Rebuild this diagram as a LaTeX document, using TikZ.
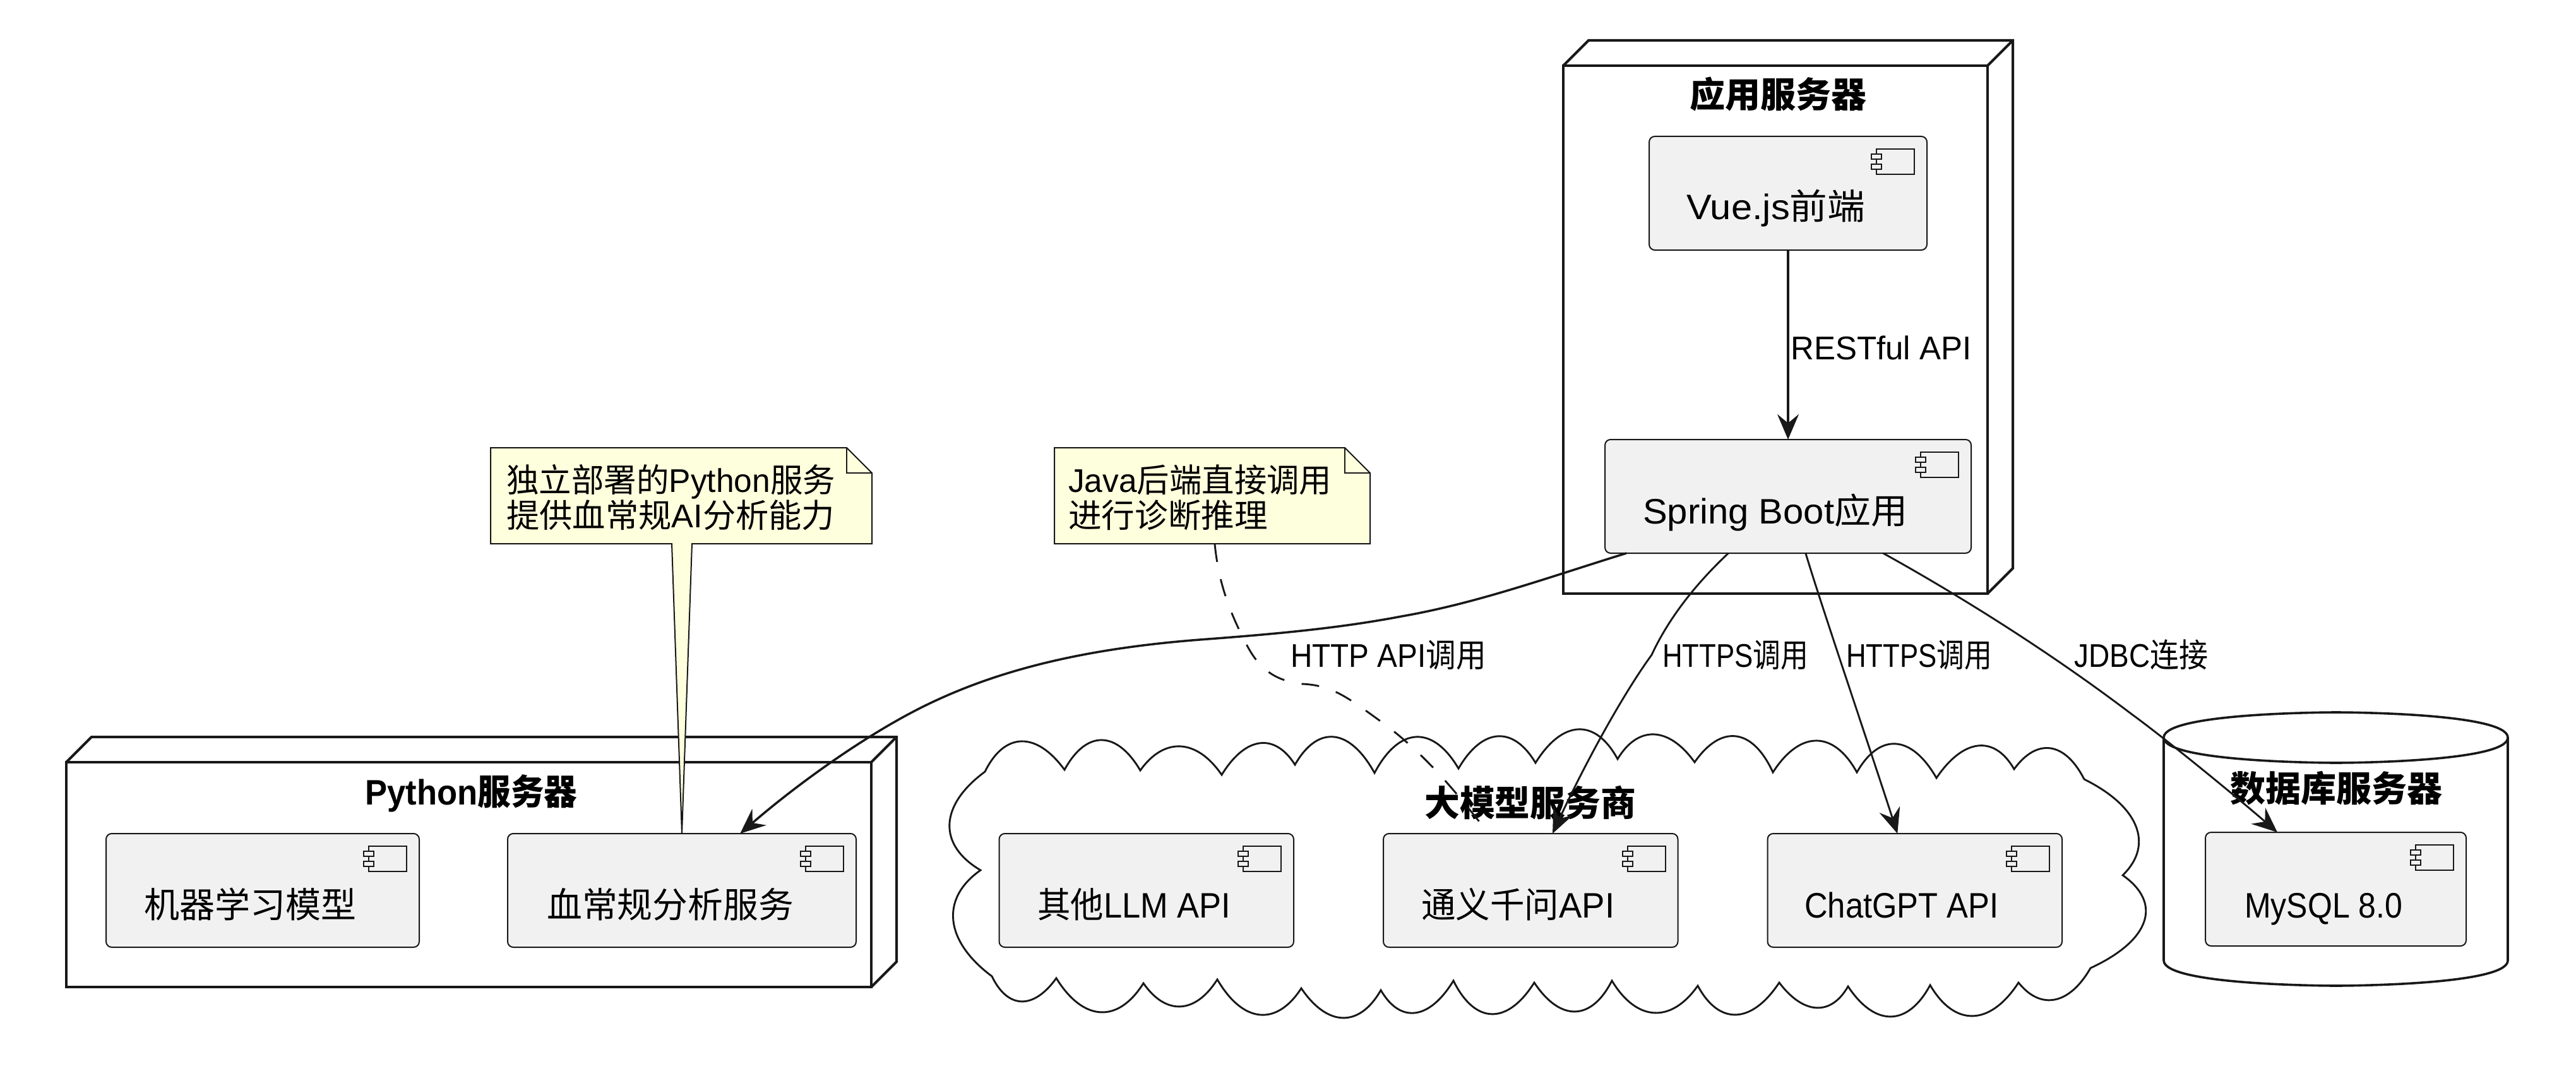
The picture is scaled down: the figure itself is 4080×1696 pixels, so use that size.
\documentclass[tikz,border=0pt]{standalone}
\usepackage{graphicx}
\usepackage{fontspec}
\setmainfont{Liberation Sans}
\newfontfamily\cjk{Noto Sans CJK SC}
\usetikzlibrary{positioning,calc,arrows.meta}

\definecolor{inkblack}{HTML}{181818}
\definecolor{compfill}{HTML}{F1F1F1}
\definecolor{notefill}{HTML}{FEFFDD}

\newcommand{\cn}[1]{{\cjk #1}}
% squeeze a text to the printed width
\newcommand{\fitw}[2]{\resizebox{#1pt}{\height}{#2}}

\tikzset{
    frame/.style={draw=inkblack,line width=4pt,inner sep=0pt,outer sep=0pt,anchor=north west},
    frameline/.style={draw=inkblack,line width=4pt},
    dbline/.style={draw=inkblack,line width=3.6pt},
    cloudline/.style={draw=inkblack,line width=2.9pt},
    comp/.style={draw=inkblack,fill=compfill,line width=2pt,rounded corners=9pt,inner sep=0pt,outer sep=0pt,minimum height=180pt,anchor=north west},
    compname/.style={inner sep=0pt,anchor=base west,text=black,font=\fontsize{56}{60}\selectfont},
    grouptitle/.style={inner sep=0pt,anchor=base west,text=black,font=\fontsize{56}{60}\selectfont\bfseries},
    linklabel/.style={inner sep=0pt,anchor=base west,text=black,font=\fontsize{52}{56}\selectfont},
    notepoly/.style={draw=inkblack,fill=notefill,line width=2pt,line join=miter},
    link/.style={draw=inkblack,line width=2.9pt,-{Stealth[length=40pt,width=34pt,inset=14pt]}},
    heavylink/.style={link,line width=3.5pt},
    notelink/.style={draw=inkblack,line width=2.9pt,dash pattern=on 28pt off 28pt},
    % one bump of the cloud, through the given peak
    bump/.style 2 args={to path={.. controls ($1.3333*(#1,#2)-0.3667*(\tikztotarget)+0.0333*(\tikztostart)$) and ($1.3333*(#1,#2)-0.3667*(\tikztostart)+0.0333*(\tikztotarget)$) .. (\tikztotarget)}},
    compicon/.pic={
        \draw[inkblack,fill=compfill,line width=2pt] (-80,20) rectangle (-20,60);
        \draw[inkblack,fill=compfill,line width=2pt] (-88,28) rectangle (-72,36);
        \draw[inkblack,fill=compfill,line width=2pt] (-88,44) rectangle (-72,52);
    }
}

\begin{document}
\begin{tikzpicture}[x=1pt,y=-1pt]
    \path[use as bounding box,fill=white] (0,0) rectangle (4080,1696);

    % application server
    \node[frame,minimum width=672pt,minimum height=836pt] (appnode) at (2476,104) {};
    \draw[frameline] (appnode.north west) -- ++(40,-40) -- ++(672,0) -- ++(0,836) -- (appnode.south east);
    \draw[frameline] (appnode.north east) -- ++(40,-40);
    \node[grouptitle] (apptitle) at (2676,171) {\fitw{280}{\cn{应用服务器}}};

    \node[comp,minimum width=440pt] (vue) at (2612,216) {};
    \pic at (vue.north east) {compicon};
    \node[compname] (vuename) at (2671,348) {\fitw{283}{Vue.js\cn{前端}}};

    \node[comp,minimum width=580pt] (spring) at (2542,696) {};
    \pic at (spring.north east) {compicon};
    \node[compname] (springname) at (2602,829) {\fitw{419}{Spring Boot\cn{应用}}};

    % python server
    \node[frame,minimum width=1275pt,minimum height=356pt] (pynode) at (105,1207) {};
    \draw[frameline] (pynode.north west) -- ++(40,-40) -- ++(1275,0) -- ++(0,356) -- (pynode.south east);
    \draw[frameline] (pynode.north east) -- ++(40,-40);
    \node[grouptitle] (pytitle) at (578,1274) {\fitw{336}{Python\cn{服务器}}};

    \node[comp,minimum width=496pt] (mlmodel) at (168,1320) {};
    \pic at (mlmodel.north east) {compicon};
    \node[compname] (mlname) at (228,1453) {\fitw{336}{\cn{机器学习模型}}};

    \node[comp,minimum width=552pt] (bloodsvc) at (804,1320) {};
    \pic at (bloodsvc.north east) {compicon};
    \node[compname] (bloodname) at (866,1453) {\fitw{391}{\cn{血常规分析服务}}};

    % llm cloud
    \draw[cloudline] (1560,1222)
        to[bump={1618}{1174}] (1686,1219) to[bump={1745}{1172}] (1806,1220)
        to[bump={1870}{1182}] (1935,1227) to[bump={1995}{1177}] (2051,1211)
        to[bump={2113}{1167}] (2177,1224) to[bump={2243}{1167}] (2310,1217)
        to[bump={2372}{1166}] (2432,1208) to[bump={2500}{1155}] (2562,1202)
        to[bump={2620}{1163}] (2684,1207) to[bump={2750}{1166}] (2808,1223)
        to[bump={2877}{1173}] (2941,1223) to[bump={3003}{1178}] (3067,1232)
        to[bump={3133}{1181}] (3190,1218) to[bump={3248}{1185}] (3301,1234)
        to[bump={3383}{1308}] (3362,1386) to[bump={3396}{1460}] (3311,1533)
        to[bump={3255}{1583}] (3197,1556) to[bump={3125}{1609}] (3057,1560)
        to[bump={2995}{1610}] (2927,1562) to[bump={2877}{1596}] (2818,1556)
        to[bump={2750}{1607}] (2689,1561) to[bump={2620}{1604}] (2553,1553)
        to[bump={2495}{1602}] (2430,1556) to[bump={2363}{1606}] (2302,1553)
        to[bump={2242}{1604}] (2187,1568) to[bump={2127}{1612}] (2061,1565)
        to[bump={1995}{1607}] (1928,1551) to[bump={1870}{1594}] (1811,1557)
        to[bump={1743}{1603}] (1673,1549) to[bump={1618}{1586}] (1571,1546)
        to[bump={1510}{1458}] (1553,1378) to[bump={1504}{1305}] (1560,1222) -- cycle;
    \node[grouptitle] (cloudtitle) at (2256,1292) {\fitw{335}{\cn{大模型服务商}}};

    \node[comp,minimum width=466.5pt] (otherllm) at (1582.5,1320) {};
    \pic at (otherllm.north east) {compicon};
    \node[compname] (othername) at (1643,1453) {\fitw{306}{\cn{其他}LLM API}};

    \node[comp,minimum width=466.5pt] (tongyi) at (2191,1320) {};
    \pic at (tongyi.north east) {compicon};
    \node[compname] (tongyiname) at (2251,1453) {\fitw{306}{\cn{通义千问}API}};

    \node[comp,minimum width=466.5pt] (chatgpt) at (2799.5,1320) {};
    \pic at (chatgpt.north east) {compicon};
    \node[compname] (chatgptname) at (2858,1453) {\fitw{307}{ChatGPT API}};

    % database cylinder
    \draw[dbline] (3427,1168) .. controls (3427,1128) and (3700,1128) .. (3700,1128)
        .. controls (3700,1128) and (3972,1128) .. (3972,1168)
        -- (3972,1521) .. controls (3972,1561) and (3700,1561) .. (3700,1561)
        .. controls (3700,1561) and (3427,1561) .. (3427,1521) -- cycle;
    \draw[dbline] (3427,1168) .. controls (3427,1208) and (3700,1208) .. (3700,1208)
        .. controls (3700,1208) and (3972,1208) .. (3972,1168);
    \node[grouptitle] (dbtitle) at (3532,1269) {\fitw{336}{\cn{数据库服务器}}};

    \node[comp,minimum width=413pt] (mysql) at (3493,1318) {};
    \pic at (mysql.north east) {compicon};
    \node[compname] (mysqlname) at (3555,1453) {\fitw{250}{MySQL 8.0}};

    % notes
    \draw[notepoly] (777,709) -- (1341,709) -- (1381,749) -- (1381,861) -- (1096,861)
        -- ($(bloodsvc.north west)!0.5!(bloodsvc.north east)$) -- (1064,861) -- (777,861) -- cycle;
    \draw[notepoly,fill=none,line width=1.6pt] (1341,709) -- (1341,749) -- (1381,749);
    \node[linklabel] (pynote) at (802,779) {\fitw{521}{\cn{独立部署的}Python\cn{服务}}};
    \node[linklabel] (pynotetwo) at (802,835) {\fitw{520}{\cn{提供血常规}AI\cn{分析能力}}};

    \draw[notepoly] (1670,709) -- (2130,709) -- (2170,749) -- (2170,861) -- (1670,861) -- cycle;
    \draw[notepoly,fill=none,line width=1.6pt] (2130,709) -- (2130,749) -- (2170,749);
    \node[linklabel] (javanote) at (1692,779) {\fitw{417}{Java\cn{后端直接调用}}};
    \node[linklabel] (javanotetwo) at (1692,835) {\fitw{316}{\cn{进行诊断推理}}};
    \coordinate (javatail) at (1924,862);

    % links
    \draw[heavylink] (vue.south) -- (spring.north);
    \node[linklabel] (restlabel) at (2836,569) {\fitw{286}{RESTful API}};

    \draw[heavylink] ($(spring.south west)!0.0586!(spring.south east)$)
        .. controls (2450,915) and (2340,955) .. (2220,976)
        .. controls (2120,995) and (2020,1004) .. (1900,1013)
        .. controls (1720,1027) and (1580,1060) .. (1460,1120)
        .. controls (1370,1165) and (1265,1240) .. ($(bloodsvc.north west)!0.667!(bloodsvc.north east)$);
    \node[linklabel] (httplabel) at (2044,1056) {\fitw{310}{HTTP API\cn{调用}}};

    \draw[link] ($(spring.south west)!0.337!(spring.south east)$)
        .. controls (2680,930) and (2640,985) .. (2616,1037)
        .. controls (2570,1100) and (2510,1210) .. ($(tongyi.north west)!0.5745!(tongyi.north east)$);
    \node[linklabel] (httpsone) at (2633,1056) {\fitw{231}{HTTPS\cn{调用}}};

    \draw[link] ($(spring.south west)!0.548!(spring.south east)$)
        .. controls (2885,960) and (2960,1180) .. ($(chatgpt.north west)!0.441!(chatgpt.north east)$);
    \node[linklabel] (httpstwo) at (2924,1056) {\fitw{231}{HTTPS\cn{调用}}};

    \draw[link] ($(spring.south west)!0.7595!(spring.south east)$)
        .. controls (3080,930) and (3230,1020) .. (3375,1130)
        .. controls (3430,1170) and (3540,1260) .. ($(mysql.north west)!0.276!(mysql.north east)$);
    \node[linklabel] (jdbclabel) at (3285,1056) {\fitw{212}{JDBC\cn{连接}}};

    \draw[notelink] (javatail)
        .. controls (1930,920) and (1945,965) .. (1975,1022)
        .. controls (1995,1060) and (2020,1078) .. (2062,1083)
        .. controls (2110,1085) and (2135,1105) .. (2185,1141)
        .. controls (2260,1195) and (2310,1260) .. ($(tongyi.north west)!0.358!(tongyi.north east)$);
\end{tikzpicture}
\end{document}
